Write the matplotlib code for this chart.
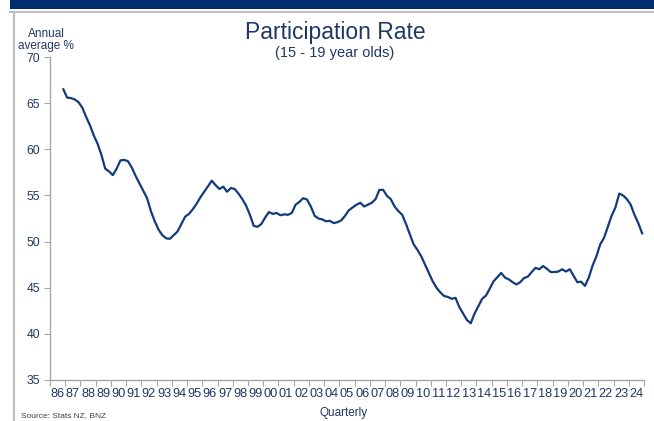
import numpy as np
import matplotlib
matplotlib.use("Agg")
import matplotlib.pyplot as plt
from matplotlib.patches import Rectangle
from matplotlib.lines import Line2D

plt.rcParams['font.family'] = ['Liberation Sans', 'DejaVu Sans']

# quarterly, annual average %, 1986Q4 .. 2024Q4
first_year = 1986
first_quarter = 4
participation = [
    66.5,
    65.6, 65.55, 65.4, 65.1,
    64.5, 63.5, 62.6, 61.5,
    60.6, 59.4, 57.9, 57.6,
    57.2, 57.9, 58.8, 58.85,
    58.7, 58.0, 57.1, 56.3,
    55.5, 54.7, 53.3, 52.2,
    51.3, 50.7, 50.35, 50.3,
    50.7, 51.1, 51.9, 52.7,
    53.0, 53.5, 54.1, 54.8,
    55.4, 56.0, 56.6, 56.1,
    55.7, 55.95, 55.4, 55.8,
    55.7, 55.2, 54.6, 53.9,
    52.9, 51.7, 51.6, 51.9,
    52.6, 53.2, 53.0, 53.1,
    52.85, 52.95, 52.9, 53.1,
    54.0, 54.3, 54.7, 54.55,
    53.8, 52.8, 52.5, 52.4,
    52.2, 52.25, 52.0, 52.1,
    52.3, 52.8, 53.4, 53.7,
    54.0, 54.2, 53.8, 54.0,
    54.2, 54.6, 55.6, 55.6,
    54.95, 54.6, 53.8, 53.3,
    52.9, 51.9, 50.8, 49.7,
    49.1, 48.4, 47.5, 46.6,
    45.7, 45.0, 44.5, 44.1,
    44.0, 43.8, 43.9, 42.9,
    42.2, 41.5, 41.15, 42.2,
    43.0, 43.8, 44.15, 44.9,
    45.7, 46.15, 46.6, 46.1,
    45.9, 45.6, 45.35, 45.6,
    46.05, 46.2, 46.7, 47.15,
    47.0, 47.35, 47.05, 46.7,
    46.7, 46.75, 47.0, 46.75,
    47.0, 46.3, 45.6, 45.65,
    45.2, 46.1, 47.4, 48.4,
    49.7, 50.4, 51.6, 52.8,
    53.7, 55.2, 55.0, 54.6,
    54.0, 52.9, 52.0, 50.9,
]
years = list(range(1986, 2025))
year_labels = [str(y)[-2:] for y in years]

navy = '#1F3864'
line_col = '#123B7A'
grey = '#A6A6A6'

fig = plt.figure(figsize=(6.54, 4.21), dpi=100)
W, H = 654, 421

# banner and frame
fig.add_artist(Rectangle((10 / W, 1 - 9 / H), 1, 9 / H, transform=fig.transFigure,
                         color='#002D72', lw=0))
fig.add_artist(Line2D([10 / W, 1], [1 - 11.5 / H, 1 - 11.5 / H], transform=fig.transFigure,
                      color='#BFBFBF', lw=1.5))
fig.add_artist(Line2D([13.5 / W, 13.5 / W], [0, 1 - 11.5 / H], transform=fig.transFigure,
                      color='#BFBFBF', lw=1.5))

ax = fig.add_axes([50 / W, 1 - 380 / H, 594 / W, 323 / H])

n_cat = len(years) * 4
start = first_quarter - 1
x = np.arange(len(participation)) + start + 0.5
ax.plot(x, participation, color=line_col, lw=1.6, solid_joinstyle='round')

ax.set_xlim(0, n_cat)
ax.set_ylim(35, 70)
ax.set_yticks(np.arange(35, 71, 5))
ax.set_xticks(np.arange(0, n_cat + 1, 4))
ax.set_xticklabels([])
ax.set_xticks(np.arange(2, n_cat, 4), minor=True)
ax.set_xticklabels(year_labels, minor=True)

for s in ['top', 'right']:
    ax.spines[s].set_visible(False)
for s in ['left', 'bottom']:
    ax.spines[s].set_color(grey)
    ax.spines[s].set_linewidth(1.0)

ax.tick_params(axis='y', direction='out', length=4, color=grey, labelsize=8.8,
               labelcolor=navy, pad=3)
ax.tick_params(axis='x', which='major', direction='out', length=4, color=grey)
ax.tick_params(axis='x', which='minor', length=0, labelsize=9.2, labelcolor=navy, pad=6)

fig.text(335 / W, 1 - 33 / H, 'Participation Rate', ha='center', va='center',
         fontsize=16.5, color=navy)
fig.text(335 / W, 1 - 53 / H, '(15 - 19 year olds)', ha='center', va='center',
         fontsize=10.5, color=navy)
fig.text(46 / W, 1 - 40 / H, 'Annual\naverage %', ha='center', va='center',
         fontsize=8.5, color=navy, linespacing=1.1)
fig.text(344 / W, 1 - 413 / H, 'Quarterly', ha='center', va='center',
         fontsize=8.5, color=navy)
fig.text(21 / W, 1 - 416 / H, 'Source: Stats NZ, BNZ', ha='left', va='center',
         fontsize=6, color='#404040')

fig.savefig('out.png', dpi=100)
